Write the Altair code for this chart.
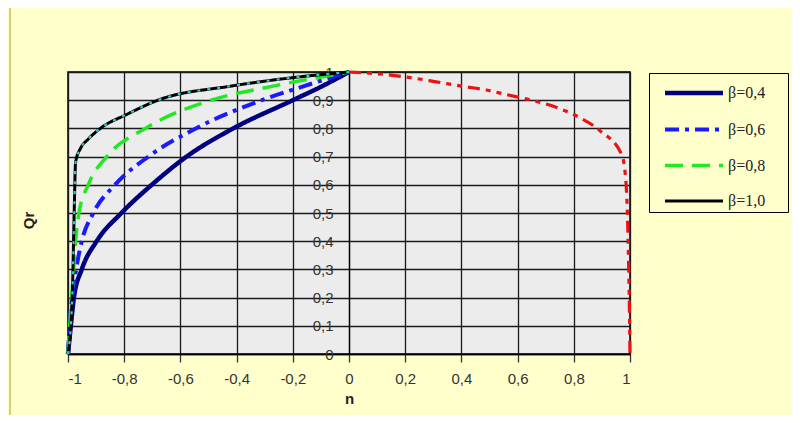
import altair as alt
import pandas as pd

# ---- data ----
betas = ["β=0,4", "β=0,6", "β=0,8", "β=1,0"]
colors = ["#000080", "#1a1aff", "#22e822", "#000000"]
dashes = [[1, 0], [14, 6, 4, 6], [18, 9], [1, 0]]
widths = [4.5, 3.0, 3.0, 2.8]

q_04 = [0, 0.1, 0.2, 0.3, 0.4, 0.5, 0.6, 0.7, 0.8, 0.9, 0.95, 1.0]
n_04 = [-1, -0.99, -0.979, -0.951, -0.898, -0.81, -0.702, -0.578, -0.412, -0.2, -0.095, 0]

q_06 = [0, 0.1, 0.2, 0.3, 0.4, 0.5, 0.6, 0.7, 0.8, 0.9, 0.95, 1.0]
n_06 = [-1, -0.995, -0.985, -0.971, -0.951, -0.91, -0.833, -0.714, -0.545, -0.31, -0.16, 0]

q_08 = [0, 0.1, 0.2, 0.3, 0.4, 0.5, 0.6, 0.7, 0.8, 0.9, 0.95, 1.0]
n_08 = [-1, -0.994, -0.987, -0.98, -0.973, -0.961, -0.928, -0.862, -0.725, -0.49, -0.27, 0]

q_10 = [0, 0.2, 0.5, 0.68, 0.73, 0.76, 0.8, 0.85, 0.9, 0.95, 0.98, 1.0]
n_10 = [-1, -0.985, -0.978, -0.973, -0.955, -0.93, -0.885, -0.79, -0.68, -0.42, -0.2, 0]

n_red = [0, 0.11, 0.225, 0.3, 0.4, 0.49, 0.555, 0.645, 0.745, 0.81, 0.895, 0.97,
         0.982, 0.991, 0.995, 0.998, 1.0]
q_red = [1.0, 0.993, 0.979, 0.967, 0.95, 0.936, 0.921, 0.901, 0.872, 0.844, 0.79, 0.708,
         0.649, 0.489, 0.323, 0.157, 0]

x_ticks = [-1, -0.8, -0.6, -0.4, -0.2, 0, 0.2, 0.4, 0.6, 0.8, 1]
y_ticks = [0, 0.1, 0.2, 0.3, 0.4, 0.5, 0.6, 0.7, 0.8, 0.9, 1]

# ---- tables ----
rows = []
for b, ns, qs in zip(betas, [n_04, n_06, n_08, n_10], [q_04, q_06, q_08, q_10]):
    for i, (n, q) in enumerate(zip(ns, qs)):
        rows.append({"beta": b, "n": n, "Q": q, "i": i})
df = pd.DataFrame(rows)
df_red = pd.DataFrame({"n": n_red, "Q": q_red, "i": list(range(len(n_red)))})

W, H = 562, 282

xs = alt.Scale(domain=[-1, 1], nice=False, zero=False)
ys = alt.Scale(domain=[0, 1], nice=False)

x_axis = alt.Axis(values=x_ticks, tickCount=30, labelOverlap=False,
                  labelExpr="replace(toString(datum.value), '.', ',')",
                  grid=True, gridColor="#1a1a1a", gridWidth=1.3, gridOpacity=1,
                  domainColor="#000000", domainWidth=1.5, tickColor="#333333", tickSize=8,
                  tickWidth=1.3, labelFont="Liberation Sans", labelFontSize=15,
                  labelColor="#333333", labelPadding=9, title="n",
                  titleFont="Liberation Sans", titleFontSize=15, titleFontWeight="bold",
                  titleColor="#222222", titlePadding=5)
y_axis = alt.Axis(values=y_ticks, tickCount=30, labelOverlap=False,
                  labelExpr="replace(toString(datum.value), '.', ',')",
                  grid=True, gridColor="#1a1a1a", gridWidth=1.3, gridOpacity=1,
                  offset=-281, ticks=False, domainColor="#000000", domainWidth=1.3,
                  labelFont="Liberation Sans", labelFontSize=15, labelColor="#333333",
                  labelPadding=16, title="Qr", titleFont="Liberation Sans",
                  titleFontSize=15, titleFontWeight="bold", titleColor="#222222",
                  titleX=-321, titleY=148, titleAngle=270, titleAlign="center",
                  titleBaseline="middle")

legend = alt.Legend(title=" ", titleOrient="right", titlePadding=20,
                    orient="none", legendX=581, legendY=1,
                    strokeColor="#000000", fillColor="#FFFFCC", padding=3,
                    symbolType="M-2,0H2", symbolSize=841, symbolStrokeWidth=4,
                    symbolOffset=25, labelFont="Liberation Serif", labelFontSize=16,
                    labelColor="#222222", labelOffset=17, rowPadding=11)

border = alt.Chart(alt.Data(values=[{"a": 1}])).mark_rect(
    fillOpacity=0, stroke="#cfcf80", strokeWidth=2
).encode(x=alt.value(-58), x2=alt.value(760), y=alt.value(-65), y2=alt.value(349))

lines = alt.Chart(df).mark_line(strokeCap="butt", interpolate="monotone").encode(
    x=alt.X("n:Q", scale=xs, axis=x_axis),
    y=alt.Y("Q:Q", scale=ys, axis=y_axis),
    color=alt.Color("beta:N", scale=alt.Scale(domain=betas, range=colors), legend=legend),
    strokeDash=alt.StrokeDash("beta:N", scale=alt.Scale(domain=betas, range=dashes)),
    strokeWidth=alt.StrokeWidth("beta:N", scale=alt.Scale(domain=betas, range=widths)),
    order="i:Q",
)

cyan = alt.Chart(df[df["beta"] == "β=1,0"]).mark_line(
    strokeCap="butt", interpolate="monotone"
).encode(
    x=alt.X("n:Q", scale=xs, axis=x_axis),
    y=alt.Y("Q:Q", scale=ys, axis=y_axis),
    color=alt.value("#33cccc"),
    strokeDash=alt.value([3, 7]),
    strokeWidth=alt.value(2.2),
    order="i:Q",
)

red = alt.Chart(df_red).mark_line(strokeCap="butt", interpolate="monotone").encode(
    x=alt.X("n:Q", scale=xs, axis=x_axis),
    y=alt.Y("Q:Q", scale=ys, axis=y_axis),
    color=alt.value("#ee1111"),
    strokeDash=alt.value([12, 6, 5, 6, 5, 6]),
    strokeWidth=alt.value(3.2),
    order="i:Q",
)

chart = alt.layer(border, lines, cyan, red).properties(
    width=W, height=H,
    autosize=alt.AutoSizeParams(type="none"),
    padding={"left": 60, "top": 64, "right": 162, "bottom": 61},
    background="#FFFFCC",
).configure_view(fill="#ECECEC", stroke="#000000", strokeWidth=1.5)

chart.save("out.html", embed_options={"renderer": "svg", "actions": False})
